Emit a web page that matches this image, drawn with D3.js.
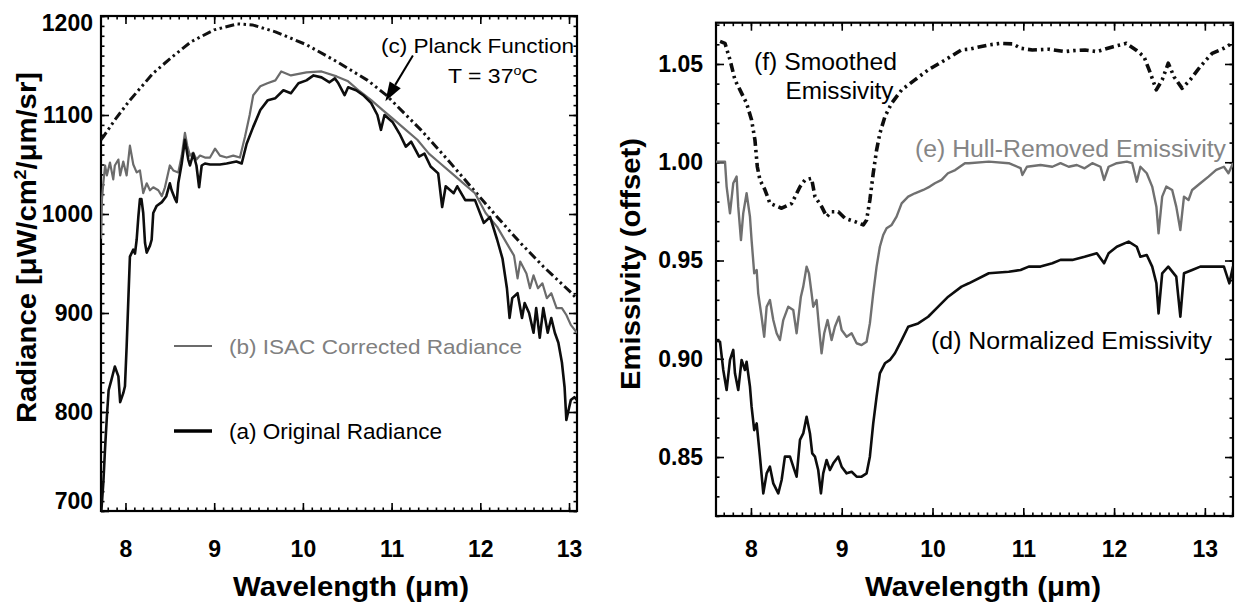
<!DOCTYPE html>
<html><head><meta charset="utf-8">
<script src="https://cdn.jsdelivr.net/npm/d3@7"></script>
<style>
body{margin:0;background:#fff}
svg{display:block}
text{font-family:"Liberation Sans",Arial,Helvetica,sans-serif}
</style>
</head><body>
<svg id="c" width="1236" height="602"></svg>
<script>
// ---------- DATA ----------
const wavelengthTicks = [8, 9, 10, 11, 12, 13];
const radianceTicks = [700, 800, 900, 1000, 1100, 1200];
const emissivityTicks = [0.85, 0.90, 0.95, 1.00, 1.05];

// (c) Planck function, T = 37 C  [wavelength um, radiance]
const planck = [[7.724,1075],[7.75,1078],[7.88,1095],[8.05,1115],[8.31,1142],[8.53,1159],[8.74,1174],[9.00,1186],[9.26,1192],[9.43,1191],[9.69,1184],[10.04,1171],[10.38,1154],[10.73,1135],[10.94,1120],[11.33,1085],[11.63,1055],[11.89,1028],[12.19,997],[12.45,971],[12.71,947],[13.03,920],[13.09,914]];

// (b) ISAC corrected radiance
const isacRadiance = [[7.724,975],[7.735,1015],[7.75,1031],[7.77,1049],[7.79,1039],[7.825,1052],[7.862,1035],[7.88,1049],[7.92,1055],[7.94,1039],[7.975,1053],[8.013,1039],[8.05,1069],[8.088,1050],[8.126,1042],[8.163,1044],[8.2,1021],[8.239,1031],[8.276,1024],[8.313,1027],[8.37,1024],[8.41,1018],[8.445,1027],[8.50,1049],[8.539,1044],[8.595,1042],[8.634,1059],[8.67,1082],[8.697,1069],[8.727,1059],[8.764,1062],[8.80,1055],[8.84,1059],[8.896,1057],[8.953,1057],[9.01,1066],[9.065,1059],[9.14,1057],[9.215,1059],[9.29,1057],[9.347,1078],[9.40,1100],[9.44,1120],[9.52,1129],[9.60,1132],[9.69,1135],[9.756,1144],[9.865,1140],[10.04,1143],[10.21,1144],[10.38,1139],[10.51,1134],[10.64,1124],[10.77,1115],[10.90,1105],[11.03,1095],[11.16,1085],[11.29,1075],[11.42,1061],[11.55,1051],[11.68,1041],[11.81,1031],[11.94,1021],[12.06,1001],[12.19,987],[12.32,967],[12.38,958],[12.42,935],[12.45,952],[12.52,940],[12.56,925],[12.60,938],[12.65,925],[12.70,930],[12.75,915],[12.80,920],[12.86,905],[12.92,905],[12.97,898],[13.02,888],[13.09,880]];

// (a) original radiance
const originalRadiance = [[7.724,695],[7.75,728],[7.769,762],[7.79,795],[7.81,822],[7.84,832],[7.88,846],[7.92,836],[7.94,810],[7.975,819],[7.994,826],[8.013,866],[8.032,913],[8.05,957],[8.088,964],[8.107,960],[8.126,974],[8.145,997],[8.163,1015],[8.18,1015],[8.2,1001],[8.22,971],[8.239,961],[8.276,968],[8.295,974],[8.313,1001],[8.35,1008],[8.41,1012],[8.46,1018],[8.5,1031],[8.52,1024],[8.56,1015],[8.577,1012],[8.595,1031],[8.634,1051],[8.67,1075],[8.708,1055],[8.727,1049],[8.764,1061],[8.80,1049],[8.83,1027],[8.859,1049],[8.896,1051],[8.953,1050],[9.065,1050],[9.14,1051],[9.25,1053],[9.31,1051],[9.366,1071],[9.44,1088],[9.52,1105],[9.605,1115],[9.69,1117],[9.78,1125],[9.865,1122],[9.95,1132],[10.04,1135],[10.12,1140],[10.21,1138],[10.30,1133],[10.36,1137],[10.40,1132],[10.47,1120],[10.51,1128],[10.60,1125],[10.68,1120],[10.77,1112],[10.84,1100],[10.88,1085],[10.92,1100],[11.01,1093],[11.09,1081],[11.16,1068],[11.22,1073],[11.31,1058],[11.37,1061],[11.44,1048],[11.525,1041],[11.57,1007],[11.61,1028],[11.70,1021],[11.74,1028],[11.83,1014],[11.94,1014],[12.04,991],[12.11,997],[12.19,974],[12.25,955],[12.30,925],[12.33,895],[12.36,915],[12.42,920],[12.47,895],[12.50,910],[12.55,900],[12.60,880],[12.63,905],[12.67,875],[12.71,905],[12.76,880],[12.80,895],[12.84,880],[12.88,870],[12.92,850],[12.95,825],[12.97,792],[12.99,800],[13.02,812],[13.06,815],[13.09,812]];

// (f) smoothed emissivity (offset)
const smoothedEmissivity = [[7.66,1.0615],[7.714,1.0605],[7.77,1.052],[7.824,1.0419],[7.879,1.0368],[7.952,1.030],[8.007,1.0215],[8.044,1.0113],[8.07,0.9977],[8.099,0.991],[8.154,0.986],[8.209,0.9791],[8.338,0.9766],[8.448,0.979],[8.54,0.9875],[8.595,0.991],[8.668,0.9918],[8.705,0.9825],[8.779,0.9774],[8.834,0.9723],[8.889,0.9748],[8.962,0.9748],[9.035,0.9715],[9.145,0.9698],[9.237,0.9681],[9.274,0.9706],[9.31,0.9808],[9.347,0.9944],[9.384,1.0062],[9.42,1.0147],[9.476,1.0232],[9.549,1.030],[9.66,1.0368],[9.806,1.0419],[9.953,1.047],[10.137,1.052],[10.32,1.0572],[10.40,1.0575],[10.62,1.0597],[10.75,1.0605],[10.885,1.0602],[10.97,1.058],[11.1,1.0571],[11.28,1.0575],[11.46,1.0563],[11.55,1.0568],[11.68,1.0571],[11.81,1.0563],[11.99,1.0588],[12.135,1.0605],[12.245,1.057],[12.33,1.0537],[12.40,1.0453],[12.465,1.0368],[12.53,1.0419],[12.597,1.0504],[12.66,1.0435],[12.75,1.0376],[12.84,1.042],[12.95,1.0487],[13.08,1.0554],[13.21,1.058],[13.30,1.0605]];

// (e) hull-removed emissivity
const hullEmissivity = [[7.604,1.0003],[7.714,1.0003],[7.732,0.9876],[7.769,0.974],[7.805,0.9893],[7.842,0.9927],[7.86,0.9774],[7.89,0.9604],[7.915,0.974],[7.952,0.9842],[7.989,0.9723],[8.007,0.9604],[8.036,0.9435],[8.063,0.9452],[8.08,0.9333],[8.117,0.9214],[8.146,0.9112],[8.173,0.9265],[8.209,0.9299],[8.246,0.9197],[8.283,0.913],[8.319,0.9095],[8.356,0.9197],[8.411,0.9265],[8.466,0.9248],[8.503,0.913],[8.55,0.9316],[8.576,0.9367],[8.613,0.9469],[8.639,0.9435],[8.668,0.9333],[8.686,0.9265],[8.723,0.9299],[8.749,0.9163],[8.778,0.9028],[8.807,0.913],[8.844,0.9197],[8.888,0.9095],[8.925,0.9163],[8.969,0.9214],[8.999,0.9146],[9.054,0.9112],[9.109,0.913],[9.164,0.9079],[9.219,0.907],[9.274,0.9087],[9.31,0.918],[9.347,0.9333],[9.384,0.9469],[9.42,0.957],[9.457,0.963],[9.494,0.9664],[9.55,0.9681],[9.604,0.9723],[9.66,0.9791],[9.732,0.9825],[9.806,0.9842],[9.898,0.9859],[9.97,0.9876],[10.026,0.9893],[10.1,0.991],[10.17,0.9944],[10.25,0.996],[10.357,0.9995],[10.40,0.9995],[10.62,1.0003],[10.84,0.9995],[10.97,0.997],[10.99,0.9935],[11.04,0.9977],[11.19,0.9986],[11.32,0.9977],[11.41,0.9995],[11.50,0.9977],[11.59,0.9986],[11.675,0.9969],[11.76,0.9995],[11.85,0.9977],[11.89,0.991],[11.94,0.9977],[12.03,0.9995],[12.14,1.0003],[12.20,0.9995],[12.25,0.9901],[12.29,0.9977],[12.36,0.9944],[12.42,0.9876],[12.466,0.9774],[12.49,0.9638],[12.53,0.9825],[12.575,0.9876],[12.64,0.9859],[12.685,0.9774],[12.73,0.9655],[12.77,0.9825],[12.82,0.9808],[12.86,0.9859],[12.95,0.9893],[13.04,0.9927],[13.125,0.9961],[13.21,0.9977],[13.26,0.9944],[13.31,0.9995]];

// (d) normalized emissivity
const normalizedEmissivity = [[7.604,0.9095],[7.659,0.9087],[7.695,0.8943],[7.732,0.8841],[7.769,0.8994],[7.805,0.9045],[7.824,0.8926],[7.86,0.8841],[7.897,0.8994],[7.934,0.8943],[7.952,0.8985],[7.989,0.8858],[8.007,0.8756],[8.036,0.8637],[8.063,0.8671],[8.099,0.8502],[8.136,0.8315],[8.173,0.8417],[8.209,0.8451],[8.246,0.8366],[8.301,0.8315],[8.338,0.8383],[8.374,0.8502],[8.43,0.8502],[8.466,0.8451],[8.503,0.84],[8.54,0.8587],[8.576,0.862],[8.613,0.8705],[8.65,0.862],[8.675,0.8519],[8.705,0.8502],[8.741,0.8434],[8.771,0.8315],[8.796,0.8417],[8.833,0.8485],[8.87,0.8434],[8.907,0.8468],[8.961,0.8502],[8.999,0.8451],[9.054,0.8417],[9.109,0.8425],[9.164,0.84],[9.219,0.84],[9.274,0.8417],[9.31,0.8502],[9.347,0.8671],[9.384,0.8807],[9.42,0.8926],[9.476,0.8977],[9.531,0.8994],[9.586,0.9028],[9.66,0.9095],[9.732,0.9163],[9.842,0.918],[9.952,0.9214],[10.063,0.9265],[10.173,0.9316],[10.32,0.9367],[10.40,0.9384],[10.62,0.9435],[10.84,0.9443],[10.97,0.9452],[11.06,0.9469],[11.19,0.9469],[11.32,0.9486],[11.41,0.9503],[11.54,0.9503],[11.675,0.9519],[11.81,0.9537],[11.89,0.9486],[11.94,0.9537],[12.03,0.957],[12.16,0.9596],[12.25,0.957],[12.29,0.9519],[12.36,0.9528],[12.42,0.9469],[12.466,0.9384],[12.49,0.9231],[12.53,0.9435],[12.597,0.9469],[12.685,0.9418],[12.73,0.9214],[12.77,0.9435],[12.86,0.9452],[12.95,0.9469],[13.04,0.9469],[13.125,0.9469],[13.21,0.9469],[13.27,0.9384],[13.31,0.9469]];

// ---------- LAYOUT ----------
const svg = d3.select("#c");
const FONT = '"Liberation Sans",Arial,Helvetica,sans-serif';

const L = {x0:101, x1:577, y0:16, y1:511};
const R = {x0:716, x1:1233, y0:22.7, y1:516};

const xL = d3.scaleLinear([7.724, 13.09], [L.x0, L.x1]);
const yL = d3.scaleLinear([700, 1200], [L.y1, L.y0]);
const xR = d3.scaleLinear([7.615, 13.31], [R.x0, R.x1]);
const yR = d3.scaleLinear([0.82, 1.071], [R.y1, R.y0]);

function frame(box, id, x, y, xMinor, yMinor, yTicks, yFmt, xPad, yPad){
  const g = svg.append("g");
  svg.append("clipPath").attr("id", id).append("rect")
    .attr("x", box.x0).attr("y", box.y0).attr("width", box.x1-box.x0).attr("height", box.y1-box.y0);
  const style = sel => { sel.select(".domain").remove(); sel.selectAll("line").attr("stroke","#000").attr("stroke-width",1.6); };
  // bottom
  g.append("g").attr("transform",`translate(0,${box.y1})`)
    .call(d3.axisBottom(x).tickValues(xMinor).tickSize(-3.5).tickFormat("")).call(style);
  const bx = g.append("g").attr("transform",`translate(0,${box.y1})`)
    .call(d3.axisBottom(x).tickValues(wavelengthTicks).tickSize(-8).tickPadding(xPad).tickFormat(d3.format("d"))).call(style);
  bx.selectAll("text").attr("font-family",FONT).attr("font-size",23).attr("font-weight","bold").attr("fill","#000");
  // top
  g.append("g").attr("transform",`translate(0,${box.y0})`)
    .call(d3.axisTop(x).tickValues(xMinor).tickSize(-3.5).tickFormat("")).call(style);
  g.append("g").attr("transform",`translate(0,${box.y0})`)
    .call(d3.axisTop(x).tickValues(wavelengthTicks).tickSize(-8).tickFormat("")).call(style);
  // left
  g.append("g").attr("transform",`translate(${box.x0},0)`)
    .call(d3.axisLeft(y).tickValues(yMinor).tickSize(-3.5).tickFormat("")).call(style);
  const ly = g.append("g").attr("transform",`translate(${box.x0},0)`)
    .call(d3.axisLeft(y).tickValues(yTicks).tickSize(-8).tickPadding(yPad).tickFormat(yFmt)).call(style);
  ly.selectAll("text").attr("font-family",FONT).attr("font-size",23).attr("font-weight","bold").attr("fill","#000");
  // right
  g.append("g").attr("transform",`translate(${box.x1},0)`)
    .call(d3.axisRight(y).tickValues(yMinor).tickSize(-3.5).tickFormat("")).call(style);
  g.append("g").attr("transform",`translate(${box.x1},0)`)
    .call(d3.axisRight(y).tickValues(yTicks).tickSize(-8).tickFormat("")).call(style);
  // box
  g.append("rect").attr("x",box.x0).attr("y",box.y0).attr("width",box.x1-box.x0).attr("height",box.y1-box.y0)
    .attr("fill","none").attr("stroke","#000").attr("stroke-width",2.2);
  return {ly};
}

const leftAx = frame(L, "clipL", xL, yL, d3.range(7.8, 13.09, 0.1), d3.range(700, 1201, 10), radianceTicks, d3.format("d"), 30, 8);
// extreme labels shifted inward, as in the figure
leftAx.ly.selectAll(".tick").filter(d=>d===1200).select("text").attr("dy","0.62em");
leftAx.ly.selectAll(".tick").filter(d=>d===700).select("text").attr("dy","-0.1em");
frame(R, "clipR", xR, yR, d3.range(7.7, 13.31, 0.1), d3.range(0.82, 1.0705, 0.01), emissivityTicks, d3.format(".2f"), 25, 13);

// ---------- CURVES ----------
function curve(data, x, y, clip, color, width, dash){
  svg.append("path").datum(data).attr("clip-path",`url(#${clip})`)
    .attr("d", d3.line().x(d=>x(d[0])).y(d=>y(d[1])))
    .attr("fill","none").attr("stroke",color).attr("stroke-width",width)
    .attr("stroke-linejoin","round").attr("stroke-dasharray", dash || null);
}
curve(planck, xL, yL, "clipL", "#111", 3, "9,3.5,2.5,3.5,2.5,3.5");
curve(isacRadiance, xL, yL, "clipL", "#6b6b6b", 2.2);
curve(originalRadiance, xL, yL, "clipL", "#0d0d0d", 2.6);

curve(smoothedEmissivity, xR, yR, "clipR", "#0d0d0d", 3.6, "9,4,2.5,4,2.5,4");
curve(hullEmissivity, xR, yR, "clipR", "#707070", 2.4);
curve(normalizedEmissivity, xR, yR, "clipR", "#0d0d0d", 2.6);

// ---------- TEXT ----------
function label(txt, x, y, size, opts={}){
  const t = svg.append("text").attr("x",x).attr("y",y).attr("font-family",FONT)
    .attr("font-size",size).attr("font-weight",opts.bold?"bold":"normal").attr("fill",opts.fill||"#000");
  if (opts.len) t.attr("textLength",opts.len).attr("lengthAdjust","spacingAndGlyphs");
  if (opts.transform) t.attr("transform",opts.transform);
  t.text(txt);
  return t;
}
// axis titles
label("Wavelength (\u03bcm)", 233, 596, 28, {bold:true, len:236});
label("Wavelength (\u03bcm)", 865, 596, 28, {bold:true, len:236});
const yt = svg.append("text").attr("transform","translate(36,423) rotate(-90)")
  .attr("font-family",FONT).attr("font-size",28).attr("font-weight","bold")
  .attr("textLength",351).attr("lengthAdjust","spacingAndGlyphs");
yt.append("tspan").text("Radiance [\u03bcW/cm");
yt.append("tspan").attr("font-size",17).attr("dy",-10).text("2");
yt.append("tspan").attr("dy",10).text("/\u03bcm/sr]");
label("Emissivity (offset)", 0, 0, 28, {bold:true, len:252, transform:"translate(640,390) rotate(-90)"});

// left panel annotations
label("(c) Planck Function", 381, 52.5, 21, {len:193});
const tt = svg.append("text").attr("x",448).attr("y",82.5).attr("font-family",FONT).attr("font-size",21)
  .attr("textLength",90).attr("lengthAdjust","spacingAndGlyphs");
tt.append("tspan").text("T = 37");
tt.append("tspan").attr("font-size",13).attr("dy",-8).text("o");
tt.append("tspan").attr("dy",8).text("C");

// arrow to Planck curve
const arrowStart = [11.24, 1160], arrowTip = [10.93, 1114];
{
  const sx = xL(arrowStart[0]), sy = yL(arrowStart[1]), tx = xL(arrowTip[0]), ty = yL(arrowTip[1]);
  const dx = tx-sx, dy = ty-sy, len = Math.hypot(dx,dy), ux = dx/len, uy = dy/len;
  const hl = 19, hw = 6.5;
  const bx = tx-ux*hl, by = ty-uy*hl;
  svg.append("line").attr("x1",sx).attr("y1",sy).attr("x2",bx).attr("y2",by).attr("stroke","#000").attr("stroke-width",2);
  svg.append("path").attr("d",`M${tx},${ty}L${bx-uy*hw},${by+ux*hw}L${bx+uy*hw},${by-ux*hw}Z`).attr("fill","#000");
}

// legend
const legendRows = [
  {text:"(b) ISAC Corrected Radiance", color:"#6b6b6b", tcolor:"#808080", y:346, w:2.2, size:21, len:293},
  {text:"(a) Original Radiance", color:"#000", tcolor:"#000", y:431, w:3.4, size:22, len:213}
];
legendRows.forEach(r=>{
  svg.append("line").attr("x1",174).attr("x2",212).attr("y1",r.y).attr("y2",r.y).attr("stroke",r.color).attr("stroke-width",r.w);
  label(r.text, 229, r.y+7.8, r.size, {fill:r.tcolor, len:r.len});
});

// right panel annotations
label("(f) Smoothed", 754, 70, 23, {len:143});
label("Emissivity", 785.5, 98.5, 23, {len:108});
label("(e) Hull-Removed Emissivity", 915, 156.5, 23, {fill:"#858585", len:311});
label("(d) Normalized Emissivity", 931, 348.5, 23, {len:281});
</script>
</body></html>
